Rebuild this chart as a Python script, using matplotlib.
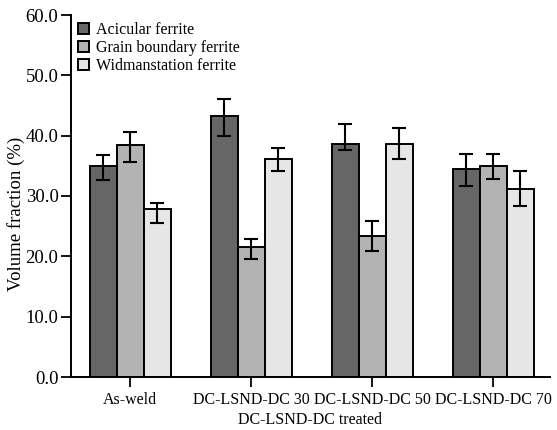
import numpy as np
import matplotlib
matplotlib.use("Agg")
import matplotlib.pyplot as plt

plt.rcParams['font.family'] = ['Liberation Serif', 'DejaVu Serif']

groups = ["As-weld", "DC-LSND-DC 30", "DC-LSND-DC 50", "DC-LSND-DC 70"]
series = ["Acicular ferrite", "Grain boundary ferrite", "Widmanstation ferrite"]

acicular = [35.0, 43.3, 38.7, 34.4]
acicular_lo = [2.3, 3.4, 1.1, 2.7]
acicular_hi = [1.8, 2.8, 3.2, 2.5]

grain_boundary = [38.4, 21.6, 23.3, 35.0]
grain_boundary_lo = [2.7, 2.0, 2.4, 2.2]
grain_boundary_hi = [2.2, 1.3, 2.6, 2.0]

widmanstatten = [27.8, 36.2, 38.6, 31.2]
widmanstatten_lo = [2.2, 2.0, 2.5, 2.9]
widmanstatten_hi = [1.1, 1.7, 2.7, 2.9]

yticks = [0.0, 10.0, 20.0, 30.0, 40.0, 50.0, 60.0]

values = [acicular, grain_boundary, widmanstatten]
lows = [acicular_lo, grain_boundary_lo, widmanstatten_lo]
highs = [acicular_hi, grain_boundary_hi, widmanstatten_hi]
colors = ["#666666", "#b3b3b3", "#e6e6e6"]

fig = plt.figure(figsize=(5.57, 4.30), dpi=100)
ax = fig.add_axes([71 / 557, 1 - 377 / 430, (550 - 71) / 557, (377 - 15) / 430])

x = np.arange(len(groups))
width = 0.223
for i, (vals, lo, hi, c, name) in enumerate(zip(values, lows, highs, colors, series)):
    pos = x + (i - 1) * width
    ax.bar(pos, vals, width, color=c, edgecolor="black", linewidth=1.4, label=name, zorder=2)
    ax.errorbar(pos, vals, yerr=[lo, hi], fmt="none", ecolor="black",
                elinewidth=1.5, capsize=5, capthick=1.5, zorder=3)

ax.set_xlim(-0.49, 3.47)
ax.set_ylim(0, 60)
ax.set_yticks(yticks)
ax.set_yticklabels([f"{t:.1f}" for t in yticks], fontsize=13.5)
ax.set_xticks(x)
ax.set_xticklabels(groups, fontsize=11.5)
ax.tick_params(axis="both", direction="out", length=7.5, width=1.3, colors="black")
ax.tick_params(axis="y", pad=1.5)
ax.spines["top"].set_visible(False)
ax.spines["right"].set_visible(False)
ax.spines["left"].set_linewidth(1.4)
ax.spines["bottom"].set_linewidth(1.4)

ax.set_xlabel("DC-LSND-DC treated", fontsize=11.5, labelpad=2.5)
ax.set_ylabel("Volume fraction (%)", fontsize=13.5)
ax.yaxis.set_label_coords(-0.097, 0.452)

leg = ax.legend(loc="upper left", bbox_to_anchor=(0.0, 1.0), frameon=False,
                fontsize=11.5, handlelength=0.7, handleheight=0.7,
                handletextpad=0.4, labelspacing=0.12, borderaxespad=0.15,
                borderpad=0.3)

fig.savefig("out.png", dpi=100)
